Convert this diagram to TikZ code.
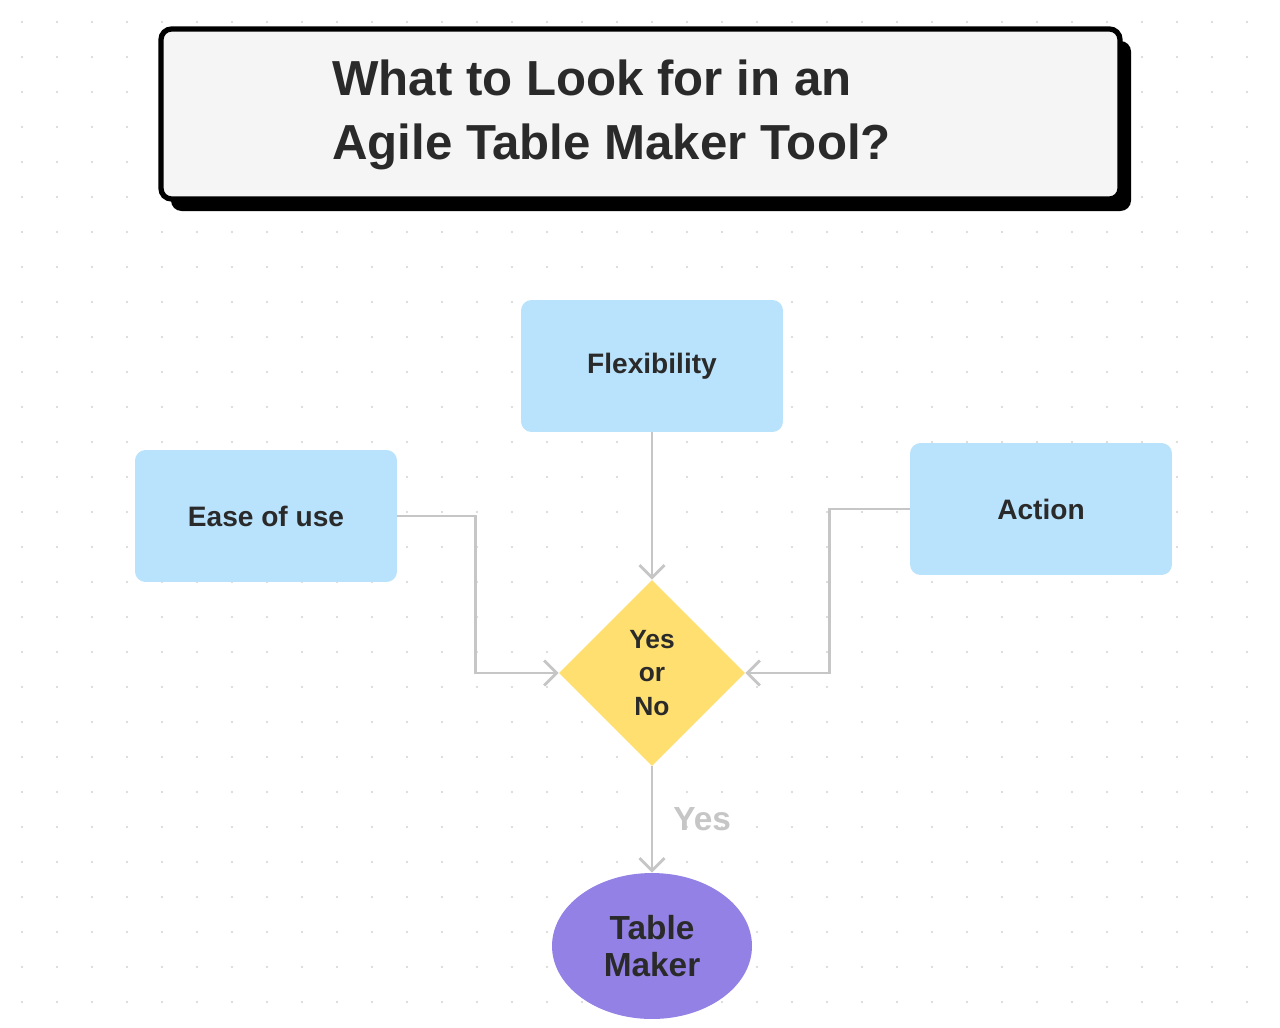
\documentclass[tikz,border=0pt]{standalone}
\usepackage{fontspec}
\setmainfont{Liberation Sans}
\usetikzlibrary{arrows.meta,shapes.geometric}
\definecolor{boxblue}{HTML}{B9E3FC}
\definecolor{decyellow}{HTML}{FEDF6F}
\definecolor{endpurple}{HTML}{9381E6}
\definecolor{linegray}{HTML}{C6C6C6}
\definecolor{inkdark}{HTML}{2A2A2A}
\tikzset{>={Straight Barb[length=2.5mm,width=5mm]}}
\begin{document}
\begin{tikzpicture}[x=0.02cm,y=-0.02cm,
  factor/.style = {draw=none, fill=boxblue, rounded corners=6pt, minimum width=5.24cm, minimum height=2.64cm, font=\fontsize{16}{19}\selectfont\bfseries, text=inkdark},
  flowline/.style = {draw=linegray, line width=1.6pt, ->}]
% background and dots
\fill[white] (0,0) rectangle (1280,1027);
\useasboundingbox (0,0) rectangle (1280,1027);
\foreach \i in {0,...,36} \foreach \j in {0,...,29}
  \fill[gray!35] (22+35*\i,22+35*\j) circle (1.2);
% title
\fill[black, rounded corners=6pt] (171,41) rectangle (1131,211);
\draw[line width=3pt, fill=gray!8, rounded corners=6pt] (161,29) rectangle (1120,199);
\node[anchor=west, align=left, text=inkdark, font=\fontsize{28}{36}\selectfont\bfseries] (title) at (326,115)
  {What to Look for in an\\Agile Table Maker Tool?};
% nodes
\node[factor] (flex) at (652,366) {Flexibility};
\node[factor] (ease) at (266,516) {Ease of use};
\node[factor] (act) at (1041,509) {Action};
\node[diamond, fill=decyellow, minimum width=3.72cm, minimum height=3.72cm, inner sep=0pt, align=center, text=inkdark,
  font=\fontsize{15}{19}\selectfont\bfseries] (dec) at (652,673) {Yes\\or\\No};
\node[ellipse, fill=endpurple, minimum width=4cm, minimum height=2.92cm, align=center, text=inkdark,
  font=\fontsize{19}{21}\selectfont\bfseries] (tool) at (652,946) {Table\\Maker};
% connectors
\draw[flowline] (flex) -- (dec);
\draw[flowline] (ease.east) -- ++(78,0) |- (dec.west);
\draw[flowline] (act.west) -- ++(-80,0) |- (dec.east);
\draw[flowline] (dec) -- node[right, text=linegray, font=\fontsize{19}{21}\selectfont\bfseries, xshift=8pt] {Yes} (tool);
\end{tikzpicture}
\end{document}
